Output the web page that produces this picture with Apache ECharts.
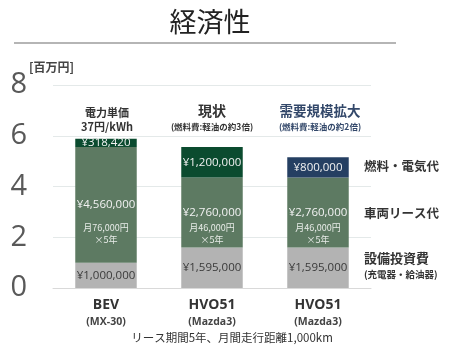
<!DOCTYPE html>
<html>
<head>
<meta charset="utf-8">
<script src="https://cdn.jsdelivr.net/npm/echarts@6/dist/echarts.min.js"></script>
<style>
  html, body { margin: 0; padding: 0; background: #ffffff; }
  #chart { width: 450px; height: 347px; }
</style>
</head>
<body>
<div id="chart"></div>
<script>
// Five-year cost per vehicle, in millions of yen
const categories = ['BEV', 'HVO51', 'HVO51'];
const models = ['(MX-30)', '(Mazda3)', '(Mazda3)'];
const equipment = [1.0, 1.595, 1.595];        // 設備投資費
const lease = [4.56, 2.76, 2.76];             // 車両リース代
const fuel = [0.31842, 1.2, 0.8];             // 燃料・電気代
const leaseMonthly = ['月76,000円', '月46,000円', '月46,000円'];
const fuelColors = ['#0b4b2f', '#0b4b2f', '#253f62'];
const yTicks = [0, 2, 4, 6, 8];

const FONT = '"Noto Sans CJK JP", "Open Sans", sans-serif';
const NUM = '"Open Sans", "Noto Sans CJK JP", sans-serif';

function yen(v) {
  return '¥' + Math.round(v * 1e6).toLocaleString('en-US');
}

const chart = echarts.init(document.getElementById('chart'), null, { renderer: 'canvas' });

const option = {
  animation: false,
  grid: { left: 53, right: 79, top: 85, bottom: 59 },
  xAxis: {
    type: 'category',
    data: categories.map((c, i) => c + '\n' + models[i]),
    axisLine: { lineStyle: { color: '#d9d9d9', width: 1 } },
    axisTick: { show: false },
    axisLabel: {
      margin: 8,
      interval: 0,
      formatter: function (v) {
        const p = v.split('\n');
        return '{c|' + p[0] + '}\n{m|' + p[1] + '}';
      },
      rich: {
        c: { fontFamily: NUM, fontSize: 14, fontWeight: 'bold', color: '#333333', lineHeight: 18 },
        m: { fontFamily: NUM, fontSize: 10.5, fontWeight: 'bold', color: '#444444', lineHeight: 16 }
      }
    }
  },
  yAxis: {
    type: 'value',
    min: 0,
    max: yTicks[yTicks.length - 1],
    interval: 2,
    axisLine: { show: false },
    axisTick: { show: false },
    splitLine: { lineStyle: { color: '#e4e9e9', width: 1 } },
    axisLabel: { margin: 26, fontFamily: NUM, fontSize: 29, color: '#595959' }
  },
  series: [
    {
      name: '設備投資費',
      type: 'bar',
      stack: 'cost',
      barWidth: '58%',
      data: equipment,
      itemStyle: { color: '#b3b3b3' },
      label: {
        show: true,
        position: 'inside',
        fontFamily: NUM,
        fontSize: 11.5,
        color: '#3a3a3a',
        formatter: p => yen(p.value)
      }
    },
    {
      name: '車両リース代',
      type: 'bar',
      stack: 'cost',
      data: lease,
      itemStyle: { color: '#5d7a62' },
      label: {
        show: true,
        position: 'inside',
        fontFamily: NUM,
        fontSize: 11.5,
        color: '#f2f2f2',
        formatter: p => yen(p.value)
      }
    },
    {
      name: '燃料・電気代',
      type: 'bar',
      stack: 'cost',
      data: fuel.map((v, i) => ({ value: v, itemStyle: { color: fuelColors[i] } })),
      label: {
        show: true,
        position: 'inside',
        fontFamily: NUM,
        fontSize: 11.5,
        color: '#f2f2f2',
        formatter: p => yen(p.value)
      }
    }
  ],
  graphic: [
    { type: 'text', x: 210, y: 22, style: { text: '経済性', font: '400 27px ' + FONT, fill: '#222222', align: 'center', verticalAlign: 'middle' } },
    { type: 'line', shape: { x1: 14, y1: 43, x2: 396, y2: 43 }, style: { stroke: '#b5b5b5', lineWidth: 2 } },
    { type: 'text', left: 29, top: 61, style: { text: '[百万円]', font: 'bold 12px ' + FONT, fill: '#444444' } },

    { type: 'text', x: 107, y: 113, style: { text: '電力単価', font: 'bold 11px ' + FONT, fill: '#333333', align: 'center', verticalAlign: 'middle' } },
    { type: 'text', x: 107, y: 127, style: { text: '37円/kWh', font: 'bold 11px ' + FONT, fill: '#333333', align: 'center', verticalAlign: 'middle' } },
    { type: 'text', x: 212, y: 111, style: { text: '現状', font: 'bold 14px ' + FONT, fill: '#333333', align: 'center', verticalAlign: 'middle' } },
    { type: 'text', x: 212, y: 127, style: { text: '(燃料費:軽油の約3倍)', font: 'bold 8.5px ' + FONT, fill: '#333333', align: 'center', verticalAlign: 'middle' } },
    { type: 'text', x: 320, y: 111, style: { text: '需要規模拡大', font: 'bold 13.5px ' + FONT, fill: '#33486a', align: 'center', verticalAlign: 'middle' } },
    { type: 'text', x: 320, y: 127, style: { text: '(燃料費:軽油の約2倍)', font: 'bold 8.5px ' + FONT, fill: '#33486a', align: 'center', verticalAlign: 'middle' } },

    { type: 'text', x: 364, y: 166, style: { text: '燃料・電気代', font: 'bold 12.5px ' + FONT, fill: '#333333', verticalAlign: 'middle' } },
    { type: 'text', x: 364, y: 213, style: { text: '車両リース代', font: 'bold 12.5px ' + FONT, fill: '#333333', verticalAlign: 'middle' } },
    { type: 'text', x: 364, y: 258, style: { text: '設備投資費', font: 'bold 13px ' + FONT, fill: '#333333', verticalAlign: 'middle' } },
    { type: 'text', x: 364, y: 274, style: { text: '(充電器・給油器)', font: 'bold 9.5px ' + FONT, fill: '#333333', verticalAlign: 'middle' } },

    { type: 'text', x: 232, y: 338, style: { text: 'リース期間5年、月間走行距離1,000km', font: '11.5px ' + FONT, fill: '#333333', align: 'center', verticalAlign: 'middle' } }
  ]
};

chart.setOption(option);

// Monthly lease notes under each lease amount, centred on the bar
const notes = [];
categories.forEach((c, i) => {
  const x = chart.convertToPixel({ xAxisIndex: 0 }, i);
  notes.push({ type: 'text', x: x, y: 228, z: 10, style: { text: leaseMonthly[i], font: '9px ' + FONT, fill: '#e8ece8', align: 'center', verticalAlign: 'middle' } });
  notes.push({ type: 'text', x: x, y: 239.5, z: 10, style: { text: '×5年', font: '9px ' + FONT, fill: '#e8ece8', align: 'center', verticalAlign: 'middle' } });
});
chart.setOption({ graphic: option.graphic.concat(notes) });
</script>
</body>
</html>
